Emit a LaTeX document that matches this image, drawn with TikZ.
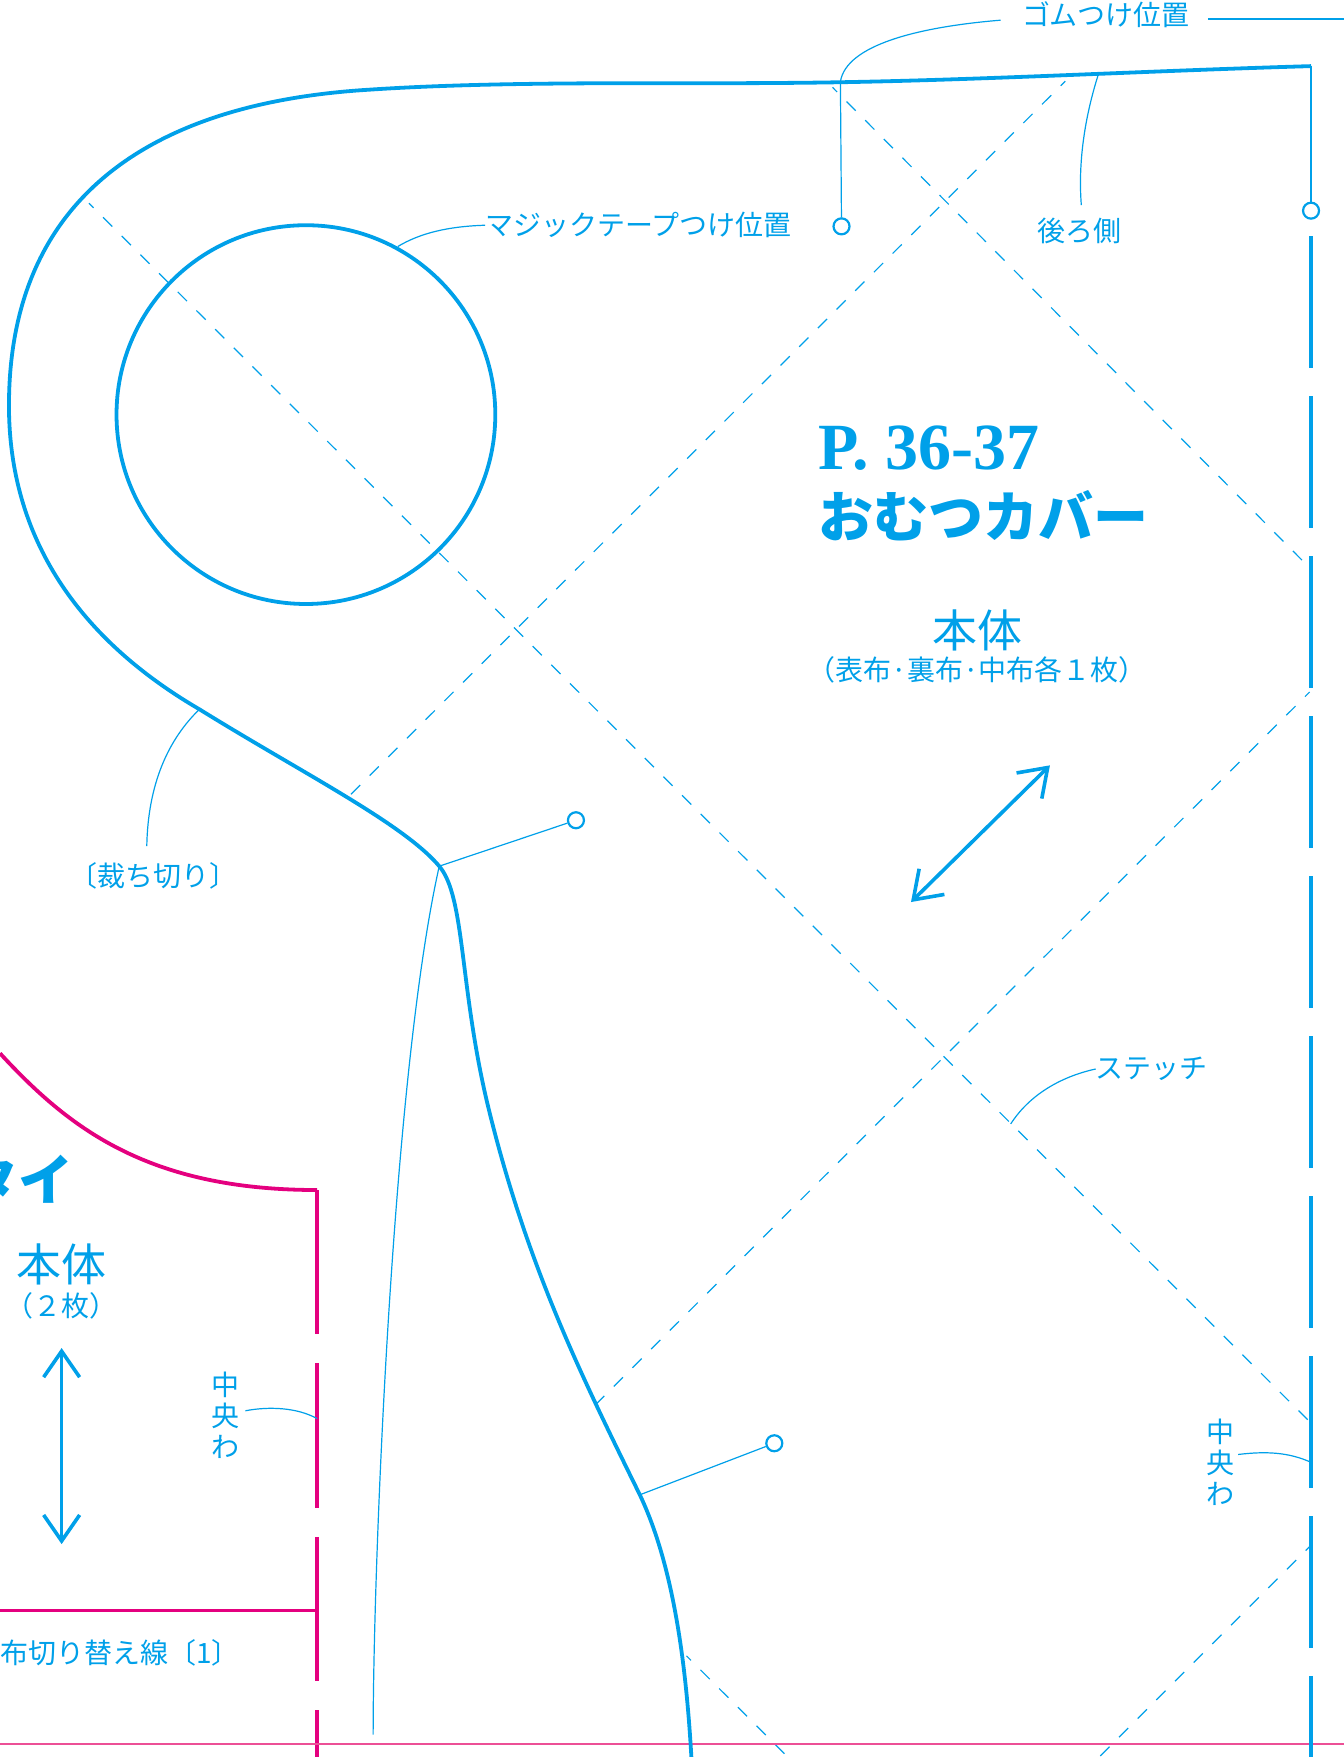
\documentclass[tikz,border=0pt]{standalone}
\usepackage{fontspec}
\usetikzlibrary{arrows.meta}
\setmainfont{Liberation Serif}
\newfontfamily\jpfont{Noto Sans CJK JP}
\definecolor{patblue}{RGB}{0, 160, 233}
\definecolor{patpink}{RGB}{228, 0, 127}
\definecolor{lightpink}{RGB}{236, 80, 150}
\tikzset{
    cutline/.style={draw=patblue, line width=3.8pt},
    thinline/.style={draw=patblue, line width=1.2pt},
    stitchline/.style={draw=patblue, line width=1.2pt, dash pattern=on 13pt off 13.4pt, dash phase=6.5pt},
    foldline/.style={draw=patblue, line width=4pt, dash pattern=on 132pt off 28pt},
    pinkfold/.style={draw=patpink, line width=4pt, dash pattern=on 144.5pt off 29pt},
    pinline/.style={draw=patpink, line width=3.8pt},
    grainline/.style={draw=patblue, line width=3.6pt, {Straight Barb[length=26pt,width=36pt]}-{Straight Barb[length=26pt,width=36pt]}},
    pinhole/.style={shape=circle, draw=patblue, fill=white, line width=2.2pt, inner sep=0pt, minimum size=16pt},
    label/.style={text=patblue, inner sep=0pt, font=\jpfont\fontsize{28}{31}\selectfont},
    partname/.style={text=patblue, inner sep=0pt, font=\jpfont\fontsize{45}{45}\selectfont},
    partnote/.style={text=patblue, inner sep=0pt, font=\jpfont\fontsize{28}{28}\selectfont},
    title/.style={text=patblue, inner sep=0pt, anchor=west, font=\bfseries\fontsize{66}{66}\selectfont},
    jptitle/.style={text=patblue, inner sep=0pt, font=\jpfont\bfseries\fontsize{55}{55}\selectfont},
}
\begin{document}
\begin{tikzpicture}[x=1.1209pt, y=-1.1209pt]
    \useasboundingbox (0,0) rectangle (1199,1568);

    % points on the outline
    \coordinate (topright) at (1170,59);
    \coordinate (gomu) at (750,73);
    \coordinate (back) at (980,67);
    \coordinate (cutedge) at (178,633);
    \coordinate (waist) at (392,773);
    \coordinate (leg) at (571,1334);
    \coordinate (bottom) at (617,1568);
    \coordinate (dartend) at (333,1548);
    \coordinate (circleedge) at (355,220);
    \coordinate (pinkstart) at (0,940);
    \coordinate (pinkcorner) at (283,1062);
    \coordinate (pinkend) at (283,1568);
    \coordinate (pinkline) at (283,1437);
    \coordinate (pinkleft) at (0,1437);
    \coordinate (baseleft) at (0,1556.4);
    \coordinate (baseright) at (1199,1556.4);
    \coordinate (foldtop) at (1170,211);
    \coordinate (foldend) at (1170,1568);
    \coordinate (foldmidA) at (1170,1305);
    \coordinate (foldmidB) at (283,1266);
    \coordinate (stitchpoint) at (902,1003);
    % free ends of the leaders
    \coordinate (gomuleft) at (893,18);
    \coordinate (gomuright) at (1078,17);
    \coordinate (gomuline) at (1199,17);
    \coordinate (backend) at (965,183);
    \coordinate (cutend) at (131,755);
    \coordinate (centerendA) at (1105,1298);
    \coordinate (centerendB) at (219,1259);

    % stitches
    \coordinate (sa) at (79.4,181.4);
    \coordinate (sb) at (1170,1270);
    \coordinate (sc) at (743,78);
    \coordinate (sd) at (1170,508);
    \coordinate (se) at (950.7,72.4);
    \coordinate (sf) at (310,712);
    \coordinate (sg) at (1168.7,617.6);
    \coordinate (sh) at (532,1253);
    \coordinate (si) at (612.6,1477.7);
    \coordinate (sj) at (703,1568);
    \coordinate (sk) at (1169.3,1379.7);
    \coordinate (sl) at (981,1568);

    \draw [stitchline] (sa) -- (sb);
    \draw [stitchline] (sc) -- (sd);
    \draw [stitchline] (se) -- (sf);
    \draw [stitchline] (sg) -- (sh);
    \draw [stitchline] (si) -- (sj);
    \draw [stitchline] (sk) -- (sl);

    % labels
    \node[label] (gomutext) at (987,13) {ゴムつけ位置};
    \node[label] (backtext) at (963,206) {後ろ側};
    \node[label, anchor=west] (velcrotext) at (433,201) {マジックテープつけ位置};
    \node[label] (cuttext) at (137,782) {〔裁ち切り〕};
    \node[label] (stitchtext) at (1028,954) {ステッチ};
    \node[label, align=center] (centerA) at (1089,1305) {中\\央\\わ};
    \node[label, align=center] (centerB) at (201,1263) {中\\央\\わ};
    \node[label, anchor=west] (switchtext) at (0,1475) {布切り替え線〔1〕};
    \node[title] (pages) at (730,400) {P. 36-37};
    \node[jptitle, anchor=west] (coverA) at (730,460) {おむつカバー};
    \node[partname] (partA) at (872,563) {本体};
    \node[partnote] (noteA) at (872,598) {（表布·裏布·中布各１枚）};
    \node[jptitle, anchor=east] (tieA) at (66,1052) {タイ};
    \node[partname] (partB) at (55,1128) {本体};
    \node[partnote] (noteB) at (55,1165) {（２枚）};

    % pin holes
    \node[pinhole] (holeA) at (751,202) {};
    \node[pinhole] (holeB) at (1170,188) {};
    \node[pinhole] (holeC) at (514,732) {};
    \node[pinhole] (holeD) at (691,1288) {};
    \node[shape=circle, draw=patblue, line width=3.8pt, inner sep=0pt, minimum size=378.9pt] (velcro) at (273,370) {};

    % pink lines go under the outline
    \draw [pinkfold] (pinkcorner) -- (pinkend);
    \draw [pinline] (pinkstart) .. controls (60,1005) and (130,1062) .. (pinkcorner);
    \draw [draw=patpink, line width=3pt] (pinkleft) -- (pinkline);
    \draw [draw=lightpink, line width=1.6pt] (baseleft) -- (baseright);

    % outline
    \draw [cutline] (topright) .. controls (1000,64) and (850,73) .. (700,74)
        .. controls (600,75) and (450,72) .. (330,80)
        .. controls (130,92) and (8,180) .. (8,362)
        .. controls (8,480) and (70,570) .. (cutedge)
        .. controls (270,690) and (360,735) .. (waist)
        .. controls (415,800) and (410,880) .. (435,985)
        .. controls (470,1130) and (520,1230) .. (leg)
        .. controls (600,1395) and (612,1480) .. (bottom);

    \draw [thinline] (waist) .. controls (350,960) and (333,1400) .. (dartend);
    \draw [thinline] (gomu) -- (holeA);
    \draw [thinline] (topright) -- (holeB);
    \draw [thinline] (waist) -- (holeC);
    \draw [thinline] (leg) -- (holeD);
    \draw [thinline] (gomu) .. controls (755,40) and (820,24) .. (gomuleft);
    \draw [thinline] (gomuright) -- (gomuline);
    \draw [thinline] (back) .. controls (968,105) and (962,145) .. (backend);
    \draw [thinline] (circleedge) .. controls (375,208) and (400,202) .. (velcrotext.west);
    \draw [thinline] (cutedge) .. controls (150,660) and (132,700) .. (cutend);
    \draw [thinline] (stitchpoint) .. controls (920,975) and (950,960) .. (stitchtext.west);
    \draw [thinline] (centerendA) .. controls (1130,1295) and (1150,1296) .. (foldmidA);
    \draw [thinline] (centerendB) .. controls (240,1255) and (265,1256) .. (foldmidB);

    % fold line
    \draw [foldline] (foldtop) -- (foldend);

    % grain arrows
    \coordinate (grainA) at (937,683);
    \coordinate (grainB) at (813,805);
    \coordinate (grainC) at (55,1203);
    \coordinate (grainD) at (55,1378);
    \draw [grainline] (grainA) -- (grainB);
    \draw [grainline] (grainC) -- (grainD);
\end{tikzpicture}
\end{document}
